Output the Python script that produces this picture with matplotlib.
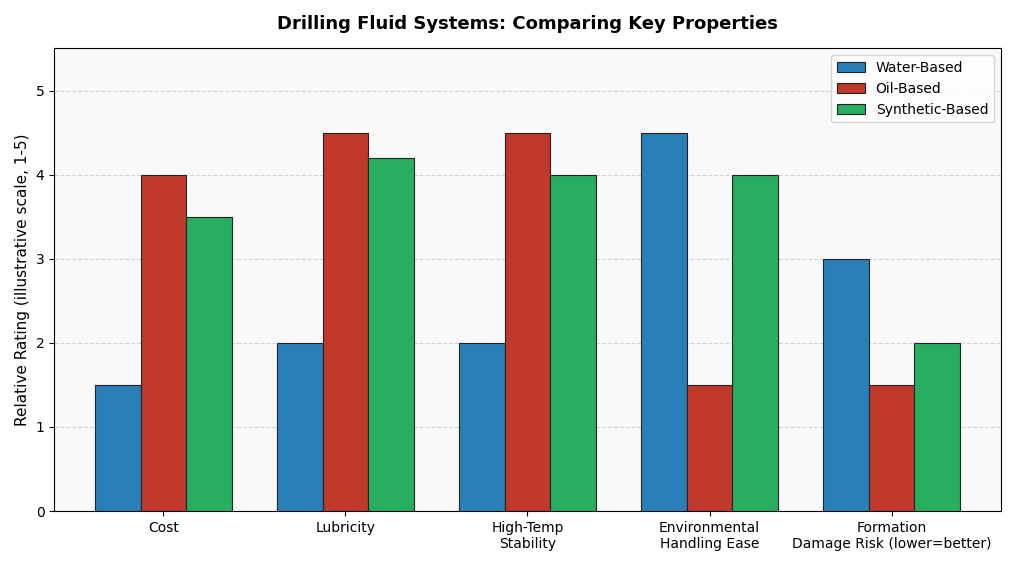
import matplotlib
matplotlib.use("Agg")
import matplotlib.pyplot as plt
import numpy as np

categories = ["Cost", "Lubricity", "High-Temp\nStability", "Environmental\nHandling Ease", "Formation\nDamage Risk (lower=better)"]
water = [1.5, 2.0, 2.0, 4.5, 3.0]
oil = [4.0, 4.5, 4.5, 1.5, 1.5]
synth = [3.5, 4.2, 4.0, 4.0, 2.0]
series = [("Water-Based", water, "#2980b9"), ("Oil-Based", oil, "#c0392b"), ("Synthetic-Based", synth, "#27ae60")]

fig, ax = plt.subplots(figsize=(10.24, 5.66), dpi=100)
ax.set_facecolor("#f9f9f9")
x = np.arange(len(categories))
w = 0.25
for i, (name, vals, c) in enumerate(series):
    ax.bar(x + (i - 1) * w, vals, w, label=name, color=c, edgecolor="#222222", linewidth=0.8, zorder=3)
ax.set_xticks(x)
ax.set_xticklabels(categories)
ax.set_ylim(0, 5.5)
ax.set_xlim(-0.6, 4.6)
ax.set_yticks([0, 1, 2, 3, 4, 5])
ax.set_ylabel("Relative Rating (illustrative scale, 1-5)", fontsize=11)
ax.set_title("Drilling Fluid Systems: Comparing Key Properties", fontsize=13, fontweight="bold", pad=14)
ax.grid(axis="y", linestyle="--", alpha=0.5, zorder=0)
ax.legend(loc="upper right")
plt.tight_layout()
plt.savefig("out.png")
